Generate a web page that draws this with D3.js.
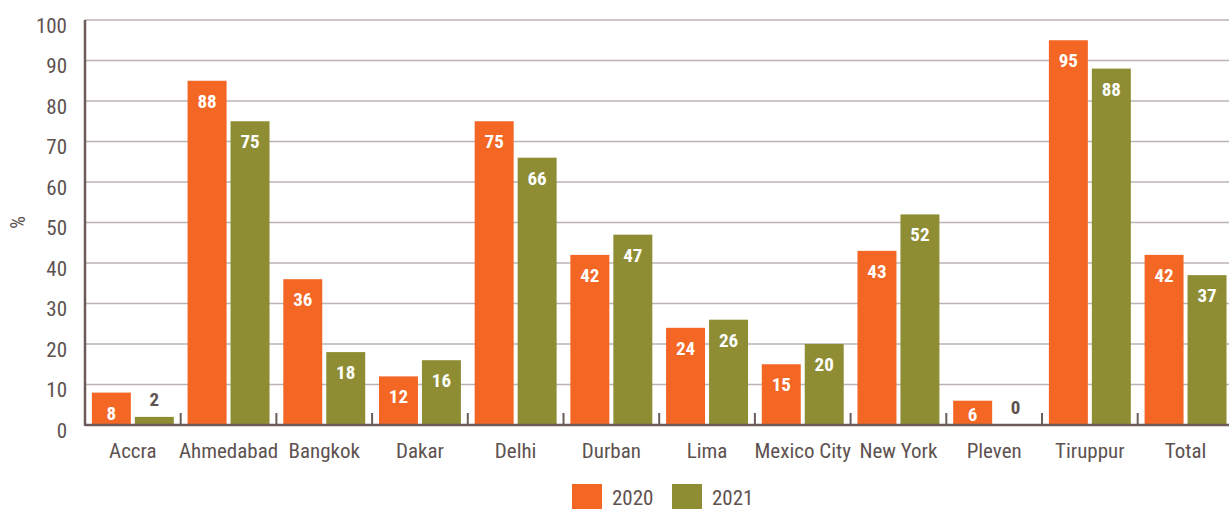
<!DOCTYPE html>
<html>
<head>
<meta charset="utf-8">
<script src="https://cdn.jsdelivr.net/npm/d3@7"></script>
<style>
  body { margin: 0; background: #fff; }
  text { font-family: "Roboto Condensed", "Liberation Sans Narrow", "Roboto", sans-serif; }
</style>
</head>
<body>
<script>
let cities = ['Accra', 'Ahmedabad', 'Bangkok', 'Dakar', 'Delhi', 'Durban', 'Lima', 'Mexico City', 'New York', 'Pleven', 'Tiruppur', 'Total']
let series = ['2020', '2021']
// bar heights as drawn
let values2020 = [8, 85, 36, 12, 75, 42, 24, 15, 43, 6, 95, 42]
let values2021 = [2, 75, 18, 16, 66, 47, 26, 20, 52, 0, 88, 37]
// printed labels (Ahmedabad 2020 is labelled 88 in the original)
let labels2020 = ['8', '88', '36', '12', '75', '42', '24', '15', '43', '6', '95', '42']
let labels2021 = ['2', '75', '18', '16', '66', '47', '26', '20', '52', '0', '88', '37']
let yTicks = [0, 10, 20, 30, 40, 50, 60, 70, 80, 90, 100]

renderChart()

function renderChart() {
  let width = 1229
  let height = 509
  let left = 85, right = 1229, top = 20, bottom = 425
  let colors = { '2020': '#f36624', '2021': '#8e8d34' }
  let textColor = '#5e5250'

  let svg = d3.select('body').append('svg').attr('width', width).attr('height', height)

  // the last band runs slightly past the right edge in the original
  let x0 = d3.scaleBand().domain(cities).range([left, left + 12 * 95.7])
  let x1 = d3.scaleBand().domain(series).range([0, x0.bandwidth()])
    .paddingInner(0.093).paddingOuter(0.16)
  let y = d3.scaleLinear().domain([0, 100]).range([bottom, top])

  // gridlines
  svg.append('g').selectAll('line')
    .data(yTicks.filter(d => d > 0))
    .enter().append('line')
    .attr('x1', left).attr('x2', right)
    .attr('y1', d => y(d)).attr('y2', d => y(d))
    .attr('stroke', '#bdb3b1').attr('stroke-width', 1.5)

  // y tick labels
  svg.append('g').selectAll('text')
    .data(yTicks)
    .enter().append('text')
    .attr('x', 67).attr('y', d => y(d) + 12.5)
    .attr('text-anchor', 'end')
    .attr('font-size', 21)
    .attr('fill', textColor)
    .text(d => d)

  svg.append('text')
    .attr('transform', 'translate(25,' + ((top + bottom) / 2) + ') rotate(-90)')
    .attr('text-anchor', 'middle')
    .attr('font-size', 20)
    .attr('fill', textColor)
    .text('%')

  let rows = cities.map((c, i) => ({
    city: c,
    bars: [
      { key: '2020', v: values2020[i], label: labels2020[i] },
      { key: '2021', v: values2021[i], label: labels2021[i] }
    ]
  }))

  let g = svg.append('g').selectAll('g')
    .data(rows)
    .enter().append('g')
    .attr('transform', d => 'translate(' + x0(d.city) + ',0)')

  let bar = g.selectAll('g')
    .data(d => d.bars)
    .enter().append('g')

  bar.append('rect')
    .attr('x', d => x1(d.key))
    .attr('width', x1.bandwidth())
    .attr('y', d => y(d.v))
    .attr('height', d => y(0) - y(d.v))
    .attr('fill', d => colors[d.key])

  let inside = d => (y(0) - y(d.v)) > 20
  bar.append('text')
    .attr('x', d => x1(d.key) + x1.bandwidth() / 2)
    .attr('y', d => inside(d) ? Math.min(y(d.v) + 27, y(0) - 4) : y(d.v) - 11)
    .attr('text-anchor', 'middle')
    .attr('font-size', 19)
    .attr('font-weight', 'bold')
    .attr('fill', d => inside(d) ? '#fff' : textColor)
    .text(d => d.label)

  // x labels
  svg.append('g').selectAll('text')
    .data(cities)
    .enter().append('text')
    .attr('x', d => x0(d) + x0.bandwidth() / 2)
    .attr('y', 458)
    .attr('text-anchor', 'middle')
    .attr('font-size', 21)
    .attr('fill', textColor)
    .text(d => d)

  // axes
  let axisColor = '#6b5c5a'
  svg.append('line')
    .attr('x1', left).attr('x2', left).attr('y1', top).attr('y2', bottom + 1)
    .attr('stroke', axisColor).attr('stroke-width', 2.5)
  svg.append('line')
    .attr('x1', left).attr('x2', right).attr('y1', bottom).attr('y2', bottom)
    .attr('stroke', axisColor).attr('stroke-width', 2.5)
  svg.append('g').selectAll('line')
    .data(cities.slice(1))
    .enter().append('line')
    .attr('x1', d => x0(d)).attr('x2', d => x0(d))
    .attr('y1', bottom).attr('y2', bottom - 12)
    .attr('stroke', axisColor).attr('stroke-width', 2)

  // legend
  let legend = svg.append('g').selectAll('g')
    .data(series)
    .enter().append('g')
    .attr('transform', (d, i) => 'translate(' + (572 + i * 100) + ',484)')
  legend.append('rect')
    .attr('width', 30).attr('height', 25)
    .attr('fill', d => colors[d])
  legend.append('text')
    .attr('x', 40).attr('y', 21)
    .attr('font-size', 21)
    .attr('fill', textColor)
    .text(d => d)
}
</script>
</body>
</html>
